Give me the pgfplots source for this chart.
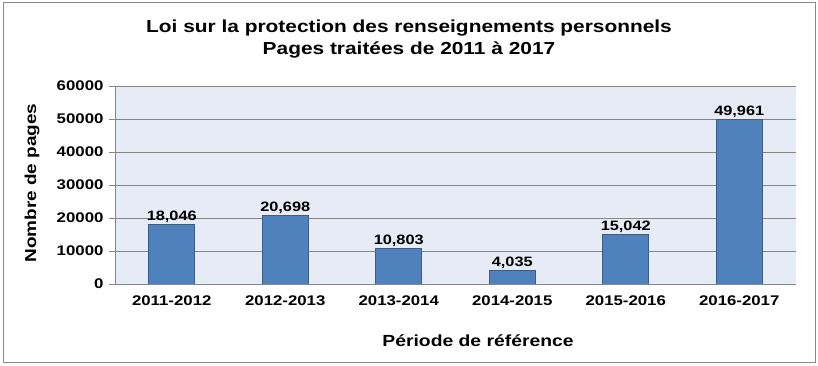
\documentclass[border=0pt]{standalone}
\usepackage{pgfplots}
\pgfplotsset{compat=1.18}
\usepackage{fontspec}
\setmainfont{Liberation Sans}[FakeStretch=1.2]
\definecolor{barfill}{RGB}{79,129,189}
\definecolor{baredge}{RGB}{56,93,138}
\definecolor{plotbg}{RGB}{230,235,245}
\definecolor{gridc}{RGB}{134,134,134}
\definecolor{framec}{RGB}{137,137,137}
\begin{document}
\begin{tikzpicture}[x=1pt,y=1pt]
\path (0,0) rectangle (818,366);
\draw[framec, line width=1pt] (3,3) rectangle (815,363);
\begin{axis}[
  at={(115pt,82pt)}, anchor=south west,
  scale only axis, width=681pt, height=198pt,
  xmin=-0.5, xmax=5.5, ymin=0, ymax=60000,
  xtick=data,
  xticklabels={2011-2012,2012-2013,2013-2014,2014-2015,2015-2016,2016-2017},
  ytick={0,10000,...,60000},
  scaled y ticks=false,
  /pgf/number format/.cd, fixed, 1000 sep={}, assume math mode=true,
  /pgfplots/.cd,
  axis x line*=bottom, axis y line*=left,
  axis line style={gridc, line width=0.8pt, -},
  axis background/.style={fill=plotbg},
  ymajorgrids, grid style={gridc, line width=0.8pt},
  tick align=outside, major tick length=6pt,
  major x tick style={draw=none},
  major y tick style={gridc, line width=0.8pt},
  tick label style={font=\bfseries\fontsize{14}{14}\selectfont},
  yticklabel style={xshift=-2pt},
  xticklabel style={yshift=-2pt},
  ybar, bar width=46pt,
  point meta=explicit symbolic,
  nodes near coords,
  nodes near coords style={font=\bfseries\fontsize{13.6}{13.6}\selectfont, black, inner sep=1.5pt},
]
\addplot[fill=barfill, draw=baredge, line width=0.8pt] coordinates {
 (0,18046) [18,046]
 (1,20698) [20,698]
 (2,10803) [10,803]
 (3,4035) [4,035]
 (4,15042) [15,042]
 (5,49961) [49,961]
};
\end{axis}
\node[font=\bfseries\fontsize{17.4}{22.5}\selectfont, align=center] at (409,327) {Loi sur la protection des renseignements personnels\\Pages traitées de 2011 à 2017};
\node[font=\bfseries\fontsize{15.8}{15.8}\selectfont, rotate=90] at (32,183) {Nombre de pages};
\node[font=\bfseries\fontsize{16.1}{16.1}\selectfont] at (478,25) {Période de référence};
\end{tikzpicture}
\end{document}
